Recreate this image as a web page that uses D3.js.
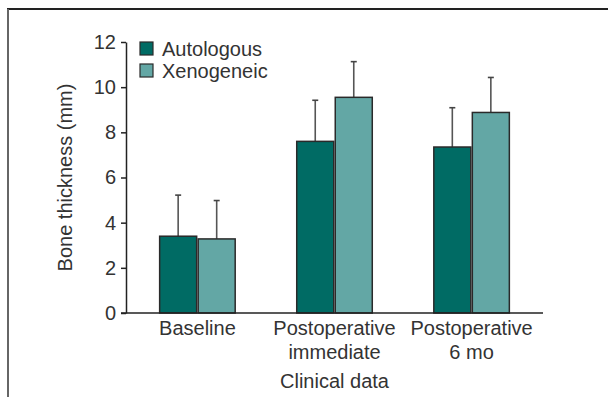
<!DOCTYPE html>
<html>
<head>
<meta charset="utf-8">
<script src="https://cdn.jsdelivr.net/npm/d3@7"></script>
<style>
  body { margin: 0; background: #fff; }
  text { font-family: "Liberation Sans", Arial, sans-serif; fill: #333; }
</style>
</head>
<body>
<div id="chart"></div>
<script>
var categories = ["Baseline", "Postoperative\nimmediate", "Postoperative\n6 mo"];
var seriesNames = ["Autologous", "Xenogeneic"];
var autologous = [3.4, 7.6, 7.35];
var xenogeneic = [3.28, 9.55, 8.88];
var autologousSD = [1.82, 1.82, 1.74];
var xenogeneicSD = [1.7, 1.58, 1.55];
var yTicks = [0, 2, 4, 6, 8, 10, 12];

var colors = ["#006b64", "#63a7a5"];

var svgWidth = 608, svgHeight = 397;
var margin = { top: 42, right: 65, bottom: 84, left: 126 };
var width = svgWidth - margin.left - margin.right;
var height = svgHeight - margin.top - margin.bottom;
var fs = "20px";

var svg = d3.select("#chart").append("svg")
  .attr("width", svgWidth)
  .attr("height", svgHeight);

// frame
svg.append("line").attr("x1", 7).attr("x2", svgWidth).attr("y1", 9).attr("y2", 9)
  .attr("stroke", "#222").attr("stroke-width", 2);
svg.append("line").attr("x1", 8).attr("x2", 8).attr("y1", 9).attr("y2", svgHeight)
  .attr("stroke", "#666").attr("stroke-width", 2);

var g = svg.append("g").attr("transform", `translate(${margin.left},${margin.top})`);

var x0 = d3.scaleBand().domain(categories).range([0, width])
  .paddingInner(0.438).paddingOuter(0.24);
var x1 = d3.scaleBand().domain(seriesNames).range([0, x0.bandwidth()]);
var y = d3.scaleLinear().domain([0, 12]).range([height, 0]);

var rows = categories.map(function (c, i) {
  return [
    { cat: c, name: seriesNames[0], v: autologous[i], sd: autologousSD[i], color: colors[0] },
    { cat: c, name: seriesNames[1], v: xenogeneic[i], sd: xenogeneicSD[i], color: colors[1] }
  ];
});

var groups = g.selectAll(".grp").data(rows).enter().append("g")
  .attr("transform", d => `translate(${x0(d[0].cat)},0)`);

// error bars
groups.selectAll(".err").data(d => d).enter().append("line")
  .attr("x1", d => x1(d.name) + x1.bandwidth() / 2)
  .attr("x2", d => x1(d.name) + x1.bandwidth() / 2)
  .attr("y1", d => y(d.v))
  .attr("y2", d => y(d.v + d.sd))
  .attr("stroke", "#555").attr("stroke-width", 1.6);
groups.selectAll(".cap").data(d => d).enter().append("line")
  .attr("x1", d => x1(d.name) + x1.bandwidth() / 2 - 3)
  .attr("x2", d => x1(d.name) + x1.bandwidth() / 2 + 3)
  .attr("y1", d => y(d.v + d.sd))
  .attr("y2", d => y(d.v + d.sd))
  .attr("stroke", "#444").attr("stroke-width", 1.6);

groups.selectAll("rect").data(d => d).enter().append("rect")
  .attr("x", d => x1(d.name) + 0.75)
  .attr("width", x1.bandwidth() - 1.5)
  .attr("y", d => y(d.v))
  .attr("height", d => y(0) - y(d.v))
  .attr("fill", d => d.color)
  .attr("stroke", "#2a2a2a").attr("stroke-width", 1.5);

// y axis
var yAxis = g.append("g")
  .call(d3.axisLeft(y).tickValues(yTicks).tickSize(5).tickPadding(5).tickSizeOuter(0));
yAxis.select(".domain").attr("stroke", "#222").attr("stroke-width", 1.5);
yAxis.selectAll(".tick line").attr("stroke", "#222").attr("stroke-width", 1.5);
yAxis.selectAll("text").style("font-size", fs).style("font-family", null).attr("fill", "#333");

// x axis
var xAxis = g.append("g").attr("transform", `translate(0,${height})`)
  .call(d3.axisBottom(x0).tickSize(0).tickSizeOuter(0));
xAxis.select(".domain").attr("stroke", "#222").attr("stroke-width", 1.5)
  .attr("d", `M-5,0H${width}`);
xAxis.selectAll(".tick text").each(function (d) {
  var t = d3.select(this).text(null).attr("y", 0).attr("dy", null);
  d.split("\n").forEach(function (line, i) {
    t.append("tspan").attr("x", 0).attr("y", 22 + i * 24).text(line);
  });
}).style("font-size", fs).attr("fill", "#333");
yAxis.attr("font-family", null);
xAxis.attr("font-family", null);

// axis titles
g.append("text")
  .attr("transform", `translate(-54,${(y(12) + y(0)) / 2}) rotate(-90)`)
  .attr("text-anchor", "middle")
  .style("font-size", fs)
  .text("Bone thickness (mm)");
g.append("text")
  .attr("x", (x0(categories[1]) + x0.bandwidth() / 2))
  .attr("y", height + 75)
  .attr("text-anchor", "middle")
  .style("font-size", fs)
  .text("Clinical data");

// legend
var legend = svg.append("g").attr("transform", "translate(140,42)");
var li = legend.selectAll("g").data(seriesNames).enter().append("g")
  .attr("transform", (d, i) => `translate(0,${i * 22})`);
li.append("rect").attr("width", 13).attr("height", 13)
  .attr("fill", (d, i) => colors[i]).attr("stroke", "#2a2a2a").attr("stroke-width", 1.2);
li.append("text").attr("x", 22).attr("y", 14).style("font-size", fs).text(d => d);
</script>
</body>
</html>
